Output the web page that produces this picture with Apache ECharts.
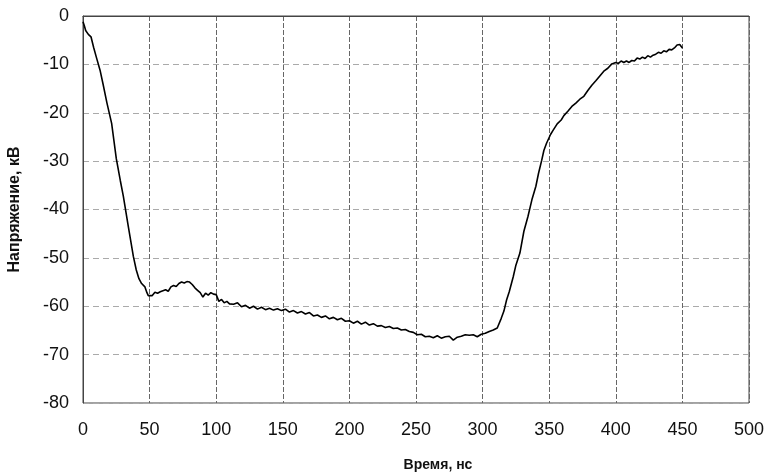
<!DOCTYPE html>
<html>
<head>
<meta charset="utf-8">
<script src="https://cdn.jsdelivr.net/npm/echarts@6/dist/echarts.min.js"></script>
<style>
html, body { margin: 0; padding: 0; background: #fff; }
#chart { width: 766px; height: 473px; }
</style>
</head>
<body>
<div id="chart"></div>
<script>
// время, нс
var time = [0, 1, 2, 4, 6, 8, 10, 12.8, 15, 18, 21.5, 25, 28, 30.3, 34, 37.8, 40, 42, 44, 46.5, 48, 49,
    50.5, 52, 54, 56, 58, 60, 62, 64, 66, 68, 70, 72, 74, 76, 78, 80, 82, 84, 86, 88, 90, 92, 94, 96, 98,
    100, 102, 104, 106, 108, 110, 113, 116, 119, 122, 125, 128, 131, 134, 137, 140, 143, 146, 149,
    152, 155, 158, 161, 164, 167, 170, 173, 176, 179, 182, 185, 188, 191, 194, 197, 200, 203, 206,
    209, 212, 215, 218, 221, 224, 227, 230, 233, 236, 239, 242, 245, 248, 251, 254, 257, 260, 263,
    266, 269, 272, 275, 278, 281, 284, 287, 290, 293, 296, 299, 302, 305, 308, 311, 314, 316, 318,
    320, 323, 325, 328, 331, 334, 337, 340, 342, 344.4, 346, 348, 351, 353, 356, 359, 361, 364, 367,
    370, 373, 376, 379, 382, 385, 388, 391, 394, 397, 400, 402, 404, 406, 408, 410, 412, 414, 416,
    418, 420, 422, 424, 426, 428, 430, 432, 434, 436, 438, 440, 442, 444, 446, 448, 450];
// напряжение, кВ
var voltage = [-1.2, -2.0, -3.0, -3.8, -4.3, -6.5, -8.5, -11.2, -14, -18, -22.2, -29.5, -34, -37.3, -43.5, -49.7, -52.5, -54.3, -55.3, -56, -57.2, -57.8,
    -57.5, -57.8, -57.1, -57.3, -57.0, -56.8, -56.6, -56.9, -56.0, -55.7, -55.9, -55.3, -55.0, -55.2, -54.9, -55.0, -55.5, -56.2, -56.7, -57.2, -58.1, -57.3, -57.7, -57.2, -57.5,
    -57.6, -59.0, -58.6, -59.3, -59.0, -59.5, -59.6, -59.3, -60.1, -59.8, -60.4, -60.0, -60.6, -60.2, -60.7, -60.4, -60.8, -60.5, -60.9,
    -60.6, -61.2, -60.9, -61.4, -61.1, -61.6, -61.3, -62.0, -61.8, -62.3, -62.0, -62.6, -62.3, -62.8, -62.5, -63.1, -63.0, -63.5, -63.1,
    -63.7, -63.3, -63.9, -63.6, -64.1, -64.0, -64.4, -64.2, -64.6, -64.5, -64.9, -64.8, -65.2, -65.4, -65.9, -65.8, -66.3, -66.2, -66.5,
    -66.1, -66.6, -66.3, -66.2, -67.0, -66.4, -66.2, -65.9, -66.0, -65.9, -66.3, -65.8, -65.6, -65.2, -64.9, -64.5, -62.5, -61.0, -58.7,
    -57.0, -53.9, -51.5, -49.0, -44.5, -41.5, -38.0, -35.2, -32.5, -29.8, -27.8, -26.3, -24.5, -23.6, -22.3, -21.5, -20.6, -19.7, -18.7,
    -18.0, -17.2, -16.6, -15.4, -14.3, -13.4, -12.4, -11.4, -10.8, -9.9, -9.6, -9.8, -9.3, -9.6, -9.3, -9.6, -9.2, -9.3, -8.7,
    -8.9, -8.5, -8.8, -8.2, -8.5, -8.1, -7.9, -7.5, -7.7, -7.2, -7.4, -6.9, -7.0, -6.6, -6.0, -5.9, -6.6];

var points = [];
for (var i = 0; i < time.length; i++) {
    points.push([time[i], voltage[i]]);
}

var myChart = echarts.init(document.getElementById('chart'));
var font = '"Liberation Sans", Arial, sans-serif';

option = {
    animation: false,
    backgroundColor: '#fff',
    grid: {
        left: 83,
        right: 17,
        top: 16,
        bottom: 70,
        containLabel: false,
        outerBoundsMode: 'none',
        show: true,
        borderColor: '#444',
        borderWidth: 1
    },
    xAxis: {
        type: 'value',
        min: 0,
        max: 500,
        interval: 50,
        name: 'Время, нс',
        nameLocation: 'middle',
        nameGap: 55,
        nameTextStyle: {
            fontFamily: font,
            fontWeight: 'bold',
            fontSize: 14,
            color: '#111',
            padding: [0, 0, 0, 44]
        },
        axisLine: { show: true, lineStyle: { color: '#444', width: 1 } },
        axisTick: { show: false },
        axisLabel: { fontFamily: font, fontSize: 18, color: '#111', margin: 18 },
        splitLine: { show: true, lineStyle: { color: '#666', type: [5, 2], width: 1 } }
    },
    yAxis: {
        type: 'value',
        min: -80,
        max: 0,
        interval: 10,
        name: 'Напряжение, кВ',
        nameLocation: 'middle',
        nameGap: 60,
        nameTextStyle: {
            fontFamily: font,
            fontWeight: 'bold',
            fontSize: 16,
            color: '#111'
        },
        axisLine: { show: true, lineStyle: { color: '#444', width: 1 } },
        axisTick: { show: false },
        axisLabel: { fontFamily: font, fontSize: 18, color: '#111', margin: 14 },
        splitLine: { show: true, lineStyle: { color: '#aaa', type: [6, 4], width: 1 } }
    },
    series: [
        {
            name: 'U',
            type: 'line',
            symbol: 'none',
            smooth: false,
            lineStyle: { color: '#000', width: 1.6 },
            data: points
        }
    ]
};
myChart.setOption(option);
</script>
</body>
</html>
